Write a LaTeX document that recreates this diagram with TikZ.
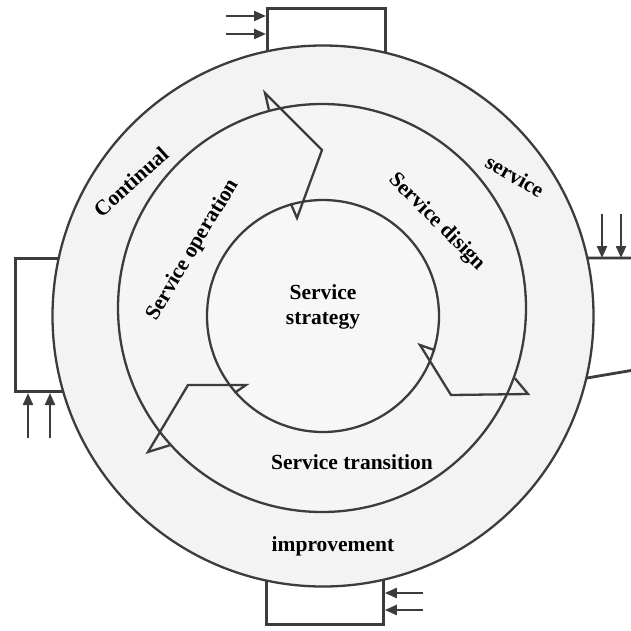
\documentclass[tikz,border=0pt]{standalone}
\usepackage{fontspec}
\setmainfont{Liberation Serif}
\usetikzlibrary{arrows.meta}
\definecolor{ink}{HTML}{3C3C3C}
\definecolor{ringA}{HTML}{F3F3F3}
\definecolor{ringB}{HTML}{F5F5F5}
\definecolor{ringC}{HTML}{F7F7F7}
\begin{document}
\begin{tikzpicture}[x=1pt,y=-1pt,
  ring/.style={circle, draw=ink, line width=2.3pt, inner sep=0pt},
  box/.style={draw=ink, line width=2.8pt, fill=white, rectangle, inner sep=0pt},
  feed/.style={draw=ink, line width=2.2pt, -{Triangle[length=12pt,width=10pt]}},
  bendline/.style={draw=ink, line width=2.3pt, line join=miter},
  lab/.style={font=\bfseries\fontsize{21.5}{25}\selectfont, text=black, inner sep=0pt, align=center}]
\useasboundingbox (0,0) rectangle (631,630);

% boxes behind the outer ring
\node[box, minimum width=118pt, minimum height=55pt, anchor=north west] (topbox) at (266,7) {};
\node[box, minimum width=62pt, minimum height=133pt, anchor=south west] (leftbox) at (14,393) {};
\node[box, minimum width=117pt, minimum height=70pt, anchor=south west] (botbox) at (265,626) {};
\coordinate (rbtl) at (575,258);
\coordinate (rbtr) at (640,258);
\coordinate (rbbl) at (575,380);
\coordinate (rbbr) at (640,369);
\draw[draw=ink, line width=2.8pt, fill=white] (rbtr) -- (rbtl) -- (rbbl) -- (rbbr);

% rings
\node[ring, fill=ringA, minimum size=541pt] (outer) at (323,316) {};
\node[ring, fill=ringB, minimum size=408pt] (mid) at (322,308) {};
\node[ring, fill=ringC, minimum size=232pt] (inner) at (323,316) {};

% feed arrows
\coordinate (t1) at (226,16);
\coordinate (t2) at (226,34);
\draw[feed] (t1) -- (t1 -| topbox.west);
\draw[feed] (t2) -- (t2 -| topbox.west);
\coordinate (l1) at (28,438);
\coordinate (l2) at (50,438);
\draw[feed] (l1) -- (l1 |- leftbox.south);
\draw[feed] (l2) -- (l2 |- leftbox.south);
\coordinate (r1) at (602,214);
\coordinate (r2) at (621,214);
\draw[feed] (r1) -- (r1 |- rbtl);
\draw[feed] (r2) -- (r2 |- rbtl);
\coordinate (b1) at (423,593);
\coordinate (b2) at (423,610);
\draw[feed] (b1) -- (b1 -| botbox.east);
\draw[feed] (b2) -- (b2 -| botbox.east);

% bent arrows between rings
\coordinate (a1p) at (265,93);
\coordinate (a1q) at (322,150);
\coordinate (a1r) at (297,218);
\draw[bendline] (mid.105) -- (a1p) -- (a1q) -- (a1r) -- (inner.106);
\coordinate (a2p) at (420,345);
\coordinate (a2q) at (451,395);
\coordinate (a2r) at (528,394);
\draw[bendline] (inner.-17) -- (a2p) -- (a2q) -- (a2r) -- (mid.-20.5);
\coordinate (a3p) at (246,385);
\coordinate (a3q) at (188,385);
\coordinate (a3r) at (148,452);
\draw[bendline] (inner.221.5) -- (a3p) -- (a3q) -- (a3r) -- (mid.222);

% labels
\node[lab] (strat) at (323,307) {Service\\strategy};
\node[lab] (trans) at (352,462) {Service transition};
\node[lab] (impr) at (333,546) {improvement};
\node[lab, rotate=42] (cont) at (131,182) {Continual};
\node[lab, rotate=-30] (serv) at (515,176) {service};
\node[lab, rotate=-45] (design) at (437,222) {Service disign};
\node[lab, rotate=59] (oper) at (193,250) {Service operation};
\end{tikzpicture}
\end{document}
